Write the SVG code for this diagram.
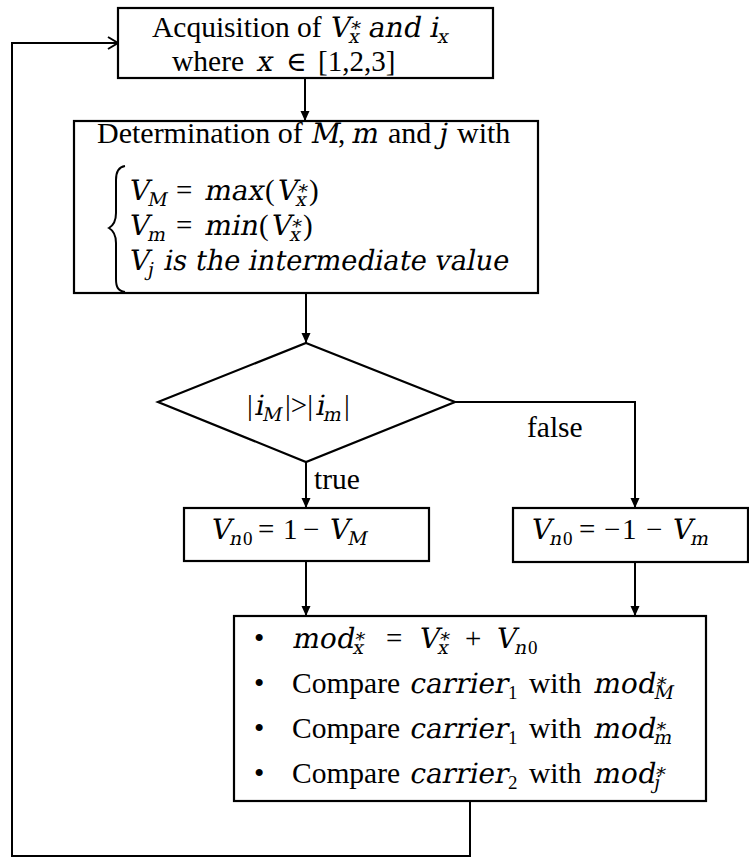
<svg xmlns="http://www.w3.org/2000/svg" width="749" height="857" viewBox="0 0 749 857">
  <defs>
    <style>
      .bg { fill: #fff; }
      .box { fill: #fff; stroke: #000; stroke-width: 2.2; }
      .wire { fill: none; stroke: #000; stroke-width: 2; }
      text { fill: #000; }
      /* prose */
      .R { font-family: "Liberation Serif", "Times New Roman", serif; font-size: 29.5px; }
      /* math variables (slanted with a skew transform) and symbols */
      .M { font-family: "DejaVu Serif", "Liberation Serif", serif; font-size: 28px; }
      /* upright operators and digits */
      .O { font-family: "Liberation Serif", "Times New Roman", serif; font-size: 29px; }
      .S { font-size: 19px; }
    </style>
    <marker id="head" markerUnits="userSpaceOnUse" markerWidth="10" markerHeight="10" refX="10" refY="5" orient="auto">
      <path d="M0,0.5 L10,5 L0,9.5 Z" fill="#000"/>
    </marker>
    <marker id="open" markerUnits="userSpaceOnUse" markerWidth="13" markerHeight="14" refX="11" refY="7" orient="auto">
      <path d="M1,1 L11,7 L1,13" fill="none" stroke="#000" stroke-width="2"/>
    </marker>
  </defs>

  <rect class="bg" x="0" y="0" width="749" height="857"/>

  <!-- connectors -->
  <g id="connectors">
    <path class="wire" d="M305,78 L305,121" marker-end="url(#head)"/>
    <path class="wire" d="M306,293 L306,343" marker-end="url(#head)"/>
    <path class="wire" d="M306,462 L306,508" marker-end="url(#head)"/>
    <path class="wire" d="M455,402 L635,402 L635,508" marker-end="url(#head)"/>
    <path class="wire" d="M306,561 L306,616" marker-end="url(#head)"/>
    <path class="wire" d="M635,562 L635,616" marker-end="url(#head)"/>
    <path class="wire" d="M470,801 L470,856 L12,856 L12,43 L118,43" marker-end="url(#open)"/>
    <text class="R" x="314" y="489">true</text>
    <text class="R" x="527" y="437">false</text>
  </g>

  <!-- acquisition -->
  <g id="acquire">
    <rect class="box" x="118" y="8" width="375" height="70"/>
    <text class="R" x="152" y="37">Acquisition of</text>
    <text class="M" transform="translate(329 37) skewX(-11)">V<tspan class="S" dy="6">x</tspan><tspan class="S" dx="-10.7" dy="-8">*</tspan><tspan dy="2"> and i</tspan><tspan class="S" dy="6">x</tspan></text>
    <text class="R" x="172" y="71">where</text>
    <text class="M" transform="translate(256 71) skewX(-11)">x</text>
    <text class="M" x="286" y="71">∈</text>
    <text class="O" x="318" y="71">[1,2,3]</text>
  </g>

  <!-- determination of M, m, j -->
  <g id="determine">
    <rect class="box" x="74" y="121" width="464" height="172"/>
    <text class="R" x="97" y="143" style="font-size:30px">Determination of</text>
    <text class="M" transform="translate(310 143) skewX(-11)">M</text>
    <text class="O" x="338" y="143">,</text>
    <text class="M" transform="translate(351 143) skewX(-11)">m</text>
    <text class="R" x="388" y="143" style="font-size:30px">and</text>
    <text class="M" transform="translate(438 143) skewX(-11)">j</text>
    <text class="R" x="457" y="143" style="font-size:30px">with</text>
    <path class="wire" stroke-width="2.2" d="M125,166 C118,167 116,172 116,180 L116,213 C116,220 114,225 109,228 C114,231 116,236 116,243 L116,279 C116,287 118,291 125,292"/>

    <text class="M" transform="translate(128 200) skewX(-11)">V<tspan class="S" dy="6">M</tspan></text>
    <text class="O" x="176" y="200">=</text>
    <text class="M" transform="translate(204 200) skewX(-11)">max</text>
    <text class="O" x="265" y="200">(</text>
    <text class="M" transform="translate(276 200) skewX(-11)">V<tspan class="S" dy="6">x</tspan><tspan class="S" dx="-10.7" dy="-8">*</tspan></text>
    <text class="O" x="309" y="200">)</text>

    <text class="M" transform="translate(128 235) skewX(-11)">V<tspan class="S" dy="6">m</tspan></text>
    <text class="O" x="176" y="235">=</text>
    <text class="M" transform="translate(204 235) skewX(-11)">min</text>
    <text class="O" x="259" y="235">(</text>
    <text class="M" transform="translate(270 235) skewX(-11)">V<tspan class="S" dy="6">x</tspan><tspan class="S" dx="-10.7" dy="-8">*</tspan></text>
    <text class="O" x="303" y="235">)</text>

    <text class="M" transform="translate(128 270) skewX(-11)">V<tspan class="S" dy="6">j</tspan></text>
    <text class="M" transform="translate(163 270) skewX(-11)" textLength="345" lengthAdjust="spacingAndGlyphs">is the intermediate value</text>
  </g>

  <!-- decision -->
  <g id="decide">
    <polygon class="box" points="306,343 455,402 306,462 158,402"/>
    <text class="O" x="247" y="415">|</text>
    <text class="M" transform="translate(254 415) skewX(-11)">i<tspan class="S" dy="6">M</tspan></text>
    <text class="O" x="285" y="415">|&gt;|</text>
    <text class="M" transform="translate(315 415) skewX(-11)">i<tspan class="S" dy="6">m</tspan></text>
    <text class="O" x="344" y="415">|</text>
  </g>

  <!-- offset when true -->
  <g id="offset-max">
    <rect class="box" x="184" y="508" width="245" height="53"/>
    <text class="M" transform="translate(210 539) skewX(-11)">V<tspan class="S" dy="6">n</tspan></text>
    <text class="O S" x="243" y="545">0</text>
    <text class="O" x="258" y="539">=</text>
    <text class="O" x="283" y="539">1</text>
    <text class="O" x="303" y="539">−</text>
    <text class="M" transform="translate(328 539) skewX(-11)">V<tspan class="S" dy="6">M</tspan></text>
  </g>

  <!-- offset when false -->
  <g id="offset-min">
    <rect class="box" x="513" y="508" width="235" height="54"/>
    <text class="M" transform="translate(530 539) skewX(-11)">V<tspan class="S" dy="6">n</tspan></text>
    <text class="O S" x="563" y="545">0</text>
    <text class="O" x="579" y="539">=</text>
    <text class="O" x="604" y="539">−</text>
    <text class="O" x="622" y="539">1</text>
    <text class="O" x="646" y="539">−</text>
    <text class="M" transform="translate(671 539) skewX(-11)">V<tspan class="S" dy="6">m</tspan></text>
  </g>

  <!-- modulation and comparison -->
  <g id="compare">
    <rect class="box" x="234" y="616" width="472" height="185"/>
    <text class="R" x="254" y="648">•</text>
    <text class="R" x="254" y="693">•</text>
    <text class="R" x="254" y="738">•</text>
    <text class="R" x="254" y="783">•</text>

    <text class="M" transform="translate(292 648) skewX(-11)">mod<tspan class="S" dy="6">x</tspan><tspan class="S" dx="-10.7" dy="-8">*</tspan></text>
    <text class="O" x="386" y="648">=</text>
    <text class="M" transform="translate(418 648) skewX(-11)">V<tspan class="S" dy="6">x</tspan><tspan class="S" dx="-10.7" dy="-8">*</tspan></text>
    <text class="O" x="465" y="648">+</text>
    <text class="M" transform="translate(495 648) skewX(-11)">V<tspan class="S" dy="6">n</tspan></text>
    <text class="O S" x="528" y="654">0</text>

    <text class="R" x="292" y="693">Compare</text>
    <text class="M" transform="translate(409 693) skewX(-11)">carrier</text>
    <text class="O S" x="508" y="699">1</text>
    <text class="R" x="529" y="693">with</text>
    <text class="M" transform="translate(593 693) skewX(-11)">mod<tspan class="S" dy="6">M</tspan><tspan class="S" dx="-18.9" dy="-8">*</tspan></text>

    <text class="R" x="292" y="738">Compare</text>
    <text class="M" transform="translate(409 738) skewX(-11)">carrier</text>
    <text class="O S" x="508" y="744">1</text>
    <text class="R" x="529" y="738">with</text>
    <text class="M" transform="translate(593 738) skewX(-11)">mod<tspan class="S" dy="6">m</tspan><tspan class="S" dx="-18" dy="-8">*</tspan></text>

    <text class="R" x="292" y="783">Compare</text>
    <text class="M" transform="translate(409 783) skewX(-11)">carrier</text>
    <text class="O S" x="508" y="789">2</text>
    <text class="R" x="529" y="783">with</text>
    <text class="M" transform="translate(593 783) skewX(-11)">mod<tspan class="S" dy="6">j</tspan><tspan class="S" dx="-6" dy="-8">*</tspan></text>
  </g>
</svg>
